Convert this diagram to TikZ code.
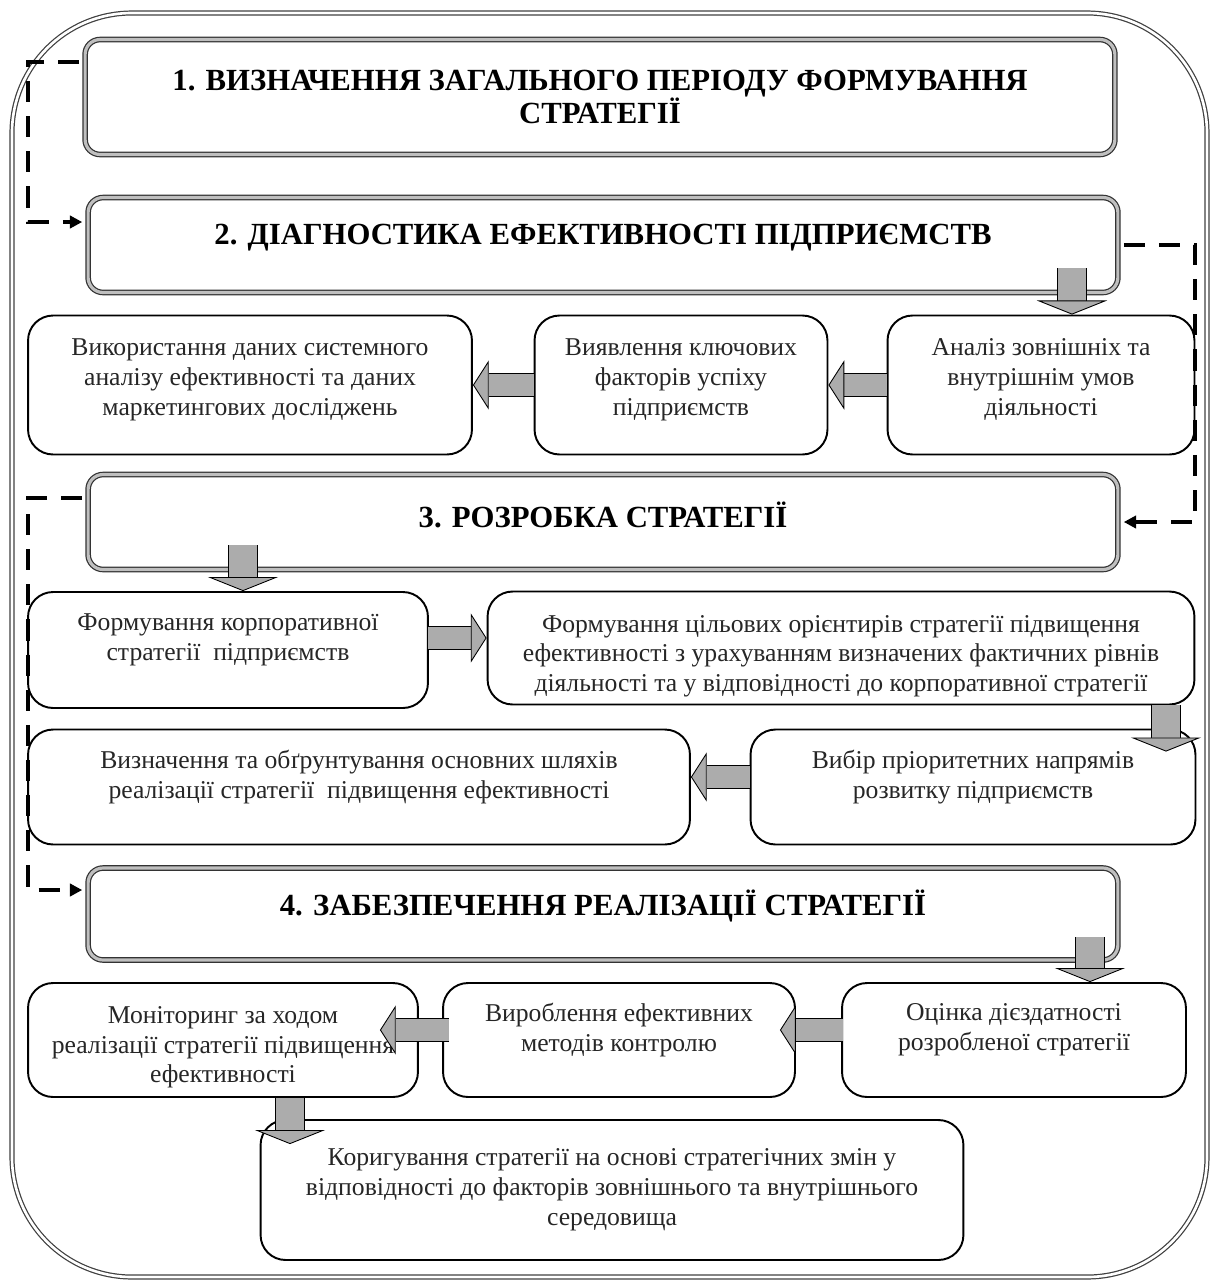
\documentclass[tikz,border=0pt]{standalone}
\usepackage{fontspec}
\setmainfont{Liberation Serif}[BoldFont={Liberation Serif Bold}]
\usetikzlibrary{arrows.meta,calc}
\tikzset{
  stage/.style={draw=black!80,double=gray!50,double distance=1.8pt,line width=0.7pt,rounded corners=3mm,
    minimum width=206mm,align=center,font=\fontsize{17.5}{19}\selectfont\bfseries},
  sbox/.style={draw,line width=1.1pt,rounded corners=5mm,align=center,text=black!85,font=\fontsize{14.6}{17}\selectfont},
  lift/.style={text depth=#1},
  drop/.style={text height=#1},
  harrow/.style={draw,line width=0.5pt,double=gray!65,double distance=13pt,-{Triangle[length=9pt,width=28pt,fill=gray!65]}},
  varrow/.style={draw,line width=0.5pt,double=gray!65,double distance=16pt,-{Triangle[length=8pt,width=40pt,fill=gray!65]}},
  dline/.style={line width=2pt,dash pattern=on 12pt off 8pt,shorten <=3pt,shorten >=3pt,-{Triangle[length=7pt,width=7pt]}}
}
\begin{document}
\begin{tikzpicture}[x=0.02cm,y=-0.02cm]
\useasboundingbox (0,0) rectangle (1214,1282);
% outer frame
\draw[draw=black!75,double=white,double distance=1.5pt,line width=0.7pt,rounded corners=24mm] (12,13) rectangle (1207,1277);

% stage 1 and 2
\node[stage,minimum height=23mm] (s1) at (600,97) {1. ВИЗНАЧЕННЯ ЗАГАЛЬНОГО ПЕРІОДУ ФОРМУВАННЯ\\СТРАТЕГІЇ};
\node[stage,minimum height=19mm,lift=12.5pt] (s2) at (603,245) {2. ДІАГНОСТИКА ЕФЕКТИВНОСТІ ПІДПРИЄМСТВ};
\node[sbox,minimum width=88.8mm,minimum height=27.8mm,lift=9pt] (a1) at (250,385) {Використання даних системного\\аналізу ефективності та даних\\маркетингових досліджень};
\node[sbox,minimum width=58.6mm,minimum height=27.8mm,lift=9pt] (a2) at (681,385) {Виявлення ключових\\факторів успіху\\підприємств};
\node[sbox,minimum width=61.4mm,minimum height=27.8mm,lift=9pt] (a3) at (1041,385) {Аналіз зовнішніх та\\внутрішнім умов\\діяльності};

% stage 3
\node[stage,minimum height=19mm,lift=8.5pt] (s3) at (603,522) {3. РОЗРОБКА СТРАТЕГІЇ};
\node[sbox,minimum width=80mm,minimum height=23.2mm,lift=14.5pt] (b1) at (228,650) {Формування корпоративної\\стратегії~ підприємств};
\node[sbox,minimum width=141.4mm,minimum height=22.6mm,drop=53pt] (b2) at (841,648) {Формування цільових орієнтирів стратегії підвищення\\ефективності з урахуванням визначених фактичних рівнів\\діяльності та у відповідності до корпоративної стратегії};
\node[sbox,minimum width=132.4mm,minimum height=23mm,lift=14pt] (c1) at (359,787) {Визначення та обґрунтування основних шляхів\\реалізації стратегії~ підвищення ефективності};
\node[sbox,minimum width=89mm,minimum height=23mm,lift=14pt] (c2) at (973,787) {Вибір пріоритетних напрямів\\розвитку підприємств};

% stage 4
\node[stage,minimum height=18.4mm,lift=13pt] (s4) at (603,914) {4. ЗАБЕЗПЕЧЕННЯ РЕАЛІЗАЦІЇ СТРАТЕГІЇ};
\node[sbox,minimum width=78mm,minimum height=22.8mm,drop=52pt] (d1) at (223,1040) {Моніторинг за ходом\\реалізації стратегії підвищення\\ефективності};
\node[sbox,minimum width=70.4mm,minimum height=22.8mm,lift=14.5pt] (d2) at (619,1040) {Вироблення ефективних\\методів контролю};
\node[sbox,minimum width=68.8mm,minimum height=22.8mm,lift=14.5pt] (d3) at (1014,1040) {Оцінка дієздатності\\розробленої стратегії};
\node[sbox,minimum width=140.6mm,minimum height=28mm] (e) at (612,1190) {Коригування стратегії на основі стратегічних змін у\\відповідності до факторів зовнішнього та внутрішнього\\середовища};

% block arrows
\coordinate (k1) at (1072,268);
\coordinate (k2) at (243,545);
\coordinate (k3) at (428,638);
\coordinate (k4) at (1166,705);
\coordinate (k5) at (750,777);
\coordinate (k6) at (1090,937);
\coordinate (k7) at (843,1030);
\coordinate (k8) at (449,1030);
\coordinate (k9) at (290,1098);
\draw[varrow] (k1) -- (k1 |- a3.north);
\draw[harrow] (a3.west) -- (a2.east);
\draw[harrow] (a2.west) -- (a1.east);
\draw[varrow] (k2) -- (k2 |- b1.north);
\draw[harrow] (k3) -- (k3 -| b2.west);
\draw[varrow] (k4) -- ($(k4 |- c2.north)+(0,23)$);
\draw[harrow] (k5) -- (k5 -| c1.east);
\draw[varrow] (k6) -- (k6 |- d3.north);
\draw[harrow] (k7) -- ($(k7 -| d2.east)+(-16,0)$);
\draw[harrow] (k8) -- ($(k8 -| d1.east)+(-39,0)$);
\draw[varrow] (k9) -- ($(k9 |- e.north)+(0,25)$);

% dashed feedback lines
\coordinate (rl) at (28,0);
\coordinate (rr) at (1195,0);
\draw[dline] (s1.west |- 0,62) -| (rl |- 0,222) -- (s2.west |- 0,222);
\draw[dline] (s2.east) -| (rr |- s3.east) -- (s3.east);
\draw[dline] (s3.west |- 0,498) -| (rl |- 0,890) -- (s4.west |- 0,890);
\end{tikzpicture}
\end{document}
